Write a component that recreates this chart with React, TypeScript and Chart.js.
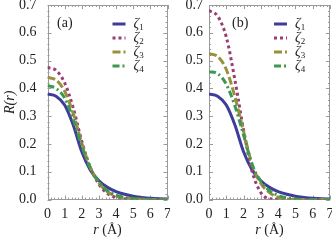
import React, { useEffect, useRef } from "react";
import { Chart, registerables } from "chart.js";
Chart.register(...registerables);

// r grid (Å)
const rValues = [0, 0.5, 1, 1.5, 2, 2.5, 3, 3.5, 4, 4.5, 5, 5.5, 6, 6.5, 7];

// Panel (a)
const zeta1A = [0.38, 0.372, 0.34, 0.268, 0.172, 0.106, 0.068, 0.044, 0.029, 0.019, 0.012, 0.008, 0.005, 0.003, 0.002];
const zeta2A = [0.475, 0.465, 0.42, 0.33, 0.21, 0.115, 0.055, 0.022, 0.008, 0.003, 0.001, 0, 0, 0, 0];
const zeta3A = [0.44, 0.43, 0.39, 0.31, 0.203, 0.116, 0.06, 0.028, 0.013, 0.006, 0.003, 0.001, 0, 0, 0];
const zeta4A = [0.41, 0.4, 0.365, 0.29, 0.193, 0.113, 0.063, 0.032, 0.016, 0.008, 0.004, 0.002, 0.001, 0, 0];

// Panel (b)
const zeta1B = [0.38, 0.372, 0.34, 0.268, 0.172, 0.106, 0.068, 0.044, 0.029, 0.019, 0.012, 0.008, 0.005, 0.003, 0.002];
const zeta2B = [0.68, 0.66, 0.585, 0.43, 0.25, 0.1, 0.025, 0.003, 0, 0, 0, 0, 0, 0, 0];
const zeta3B = [0.525, 0.515, 0.468, 0.37, 0.245, 0.125, 0.058, 0.025, 0.008, 0.002, 0, 0, 0, 0, 0];
const zeta4B = [0.46, 0.453, 0.415, 0.337, 0.232, 0.125, 0.065, 0.032, 0.015, 0.006, 0.002, 0, 0, 0, 0];

const xTicks = [0, 1, 2, 3, 4, 5, 6, 7];
const yTicks = [0, 0.1, 0.2, 0.3, 0.4, 0.5, 0.6, 0.7];
const seriesSubs = ["1", "2", "3", "4"];
const panelLabels = ["(a)", "(b)"];

const COLORS = ["rgb(62,61,153)", "rgb(153,61,116)", "rgb(153,144,61)", "rgb(61,153,81)"];
const DASHES: number[][] = [[], [3, 3], [8, 3], [7, 3, 2, 3]];
const SERIF = '"Liberation Serif", "Times New Roman", Tinos, "DejaVu Serif", serif';

function makePlugin(panel: number, opts: { labelDx: number; showYTitle: boolean }) {
  return {
    id: "framePanel" + panel,
    beforeDatasetsDraw(chart: any) {
      const { ctx, chartArea: a, scales } = chart;
      const x = scales.x;
      const y = scales.y;
      ctx.save();
      ctx.strokeStyle = "#9a9a9a";
      ctx.lineWidth = 1;
      ctx.strokeRect(Math.round(a.left) + 0.5, Math.round(a.top) + 0.5, Math.round(a.right - a.left) - 1, Math.round(a.bottom - a.top) - 1);
      ctx.beginPath();
      for (let i = 0; i <= 35; i++) {
        const px = Math.round(x.getPixelForValue(i * 0.2)) + 0.5;
        const len = i % 5 === 0 ? 4 : 2;
        ctx.moveTo(px, a.bottom);
        ctx.lineTo(px, a.bottom - len);
        ctx.moveTo(px, a.top);
        ctx.lineTo(px, a.top + len);
      }
      for (let j = 0; j <= 35; j++) {
        const py = Math.round(y.getPixelForValue(j * 0.02)) + 0.5;
        const len = j % 5 === 0 ? 4 : 2;
        ctx.moveTo(a.left, py);
        ctx.lineTo(a.left + len, py);
        ctx.moveTo(a.right, py);
        ctx.lineTo(a.right - len, py);
      }
      ctx.stroke();
      ctx.restore();
    },
    afterDraw(chart: any) {
      const { ctx, chartArea: a } = chart;
      ctx.save();
      ctx.fillStyle = "#222";
      ctx.textBaseline = "middle";
      // panel label
      ctx.font = `14px ${SERIF}`;
      ctx.textAlign = "left";
      ctx.fillText(panelLabels[panel], a.left + opts.labelDx, a.top + 18);
      // legend
      for (let k = 0; k < 4; k++) {
        const yy = a.top + 19 + k * 14;
        ctx.save();
        ctx.strokeStyle = COLORS[k];
        ctx.lineWidth = 3;
        ctx.setLineDash(DASHES[k]);
        ctx.beginPath();
        ctx.moveTo(a.left + 65, yy);
        ctx.lineTo(a.left + 78, yy);
        ctx.stroke();
        ctx.restore();
        ctx.fillStyle = "#222";
        ctx.font = `italic 14px ${SERIF}`;
        ctx.textAlign = "left";
        ctx.fillText("ζ", a.left + 86, yy);
        const w = ctx.measureText("ζ").width;
        ctx.font = `9px ${SERIF}`;
        ctx.fillText(seriesSubs[k], a.left + 86 + w, yy + 4);
      }
      // x title: r (Å)
      const cx = (a.left + a.right) / 2;
      const ty = 230;
      ctx.font = `italic 14px ${SERIF}`;
      const w1 = ctx.measureText("r").width;
      ctx.font = `14px ${SERIF}`;
      const w2 = ctx.measureText(" (Å)").width;
      const sx = cx - (w1 + w2) / 2;
      ctx.textAlign = "left";
      ctx.font = `italic 14px ${SERIF}`;
      ctx.fillText("r", sx, ty);
      ctx.font = `14px ${SERIF}`;
      ctx.fillText(" (Å)", sx + w1, ty);
      // y title
      if (opts.showYTitle) {
        ctx.save();
        ctx.translate(10, (a.top + a.bottom) / 2);
        ctx.rotate(-Math.PI / 2);
        ctx.textAlign = "center";
        ctx.font = `italic 14px ${SERIF}`;
        ctx.fillText("R(r)", 0, 0);
        ctx.restore();
      }
      ctx.restore();
    },
  };
}

function buildConfig(series: number[][], panel: number, yWidth: number, rightPad: number, yPad: number, labelDx: number, showYTitle: boolean): any {
  return {
    type: "line",
    data: {
      datasets: series.map((vals, k) => ({
        label: "ζ" + seriesSubs[k],
        data: rValues.map((r, i) => ({ x: r, y: vals[i] })),
        borderColor: COLORS[k],
        borderWidth: 3,
        borderDash: DASHES[k],
        pointRadius: 0,
        cubicInterpolationMode: "monotone",
        fill: false,
        order: 4 - k,
      })),
    },
    options: {
      animation: false,
      responsive: false,
      devicePixelRatio: 1,
      layout: { padding: { top: 5, right: rightPad, left: 0, bottom: 0 } },
      plugins: { legend: { display: false }, tooltip: { enabled: false } },
      scales: {
        x: {
          type: "linear",
          min: 0,
          max: 7,
          afterBuildTicks: (s: any) => {
            s.ticks = xTicks.map((v) => ({ value: v }));
          },
          afterFit: (s: any) => {
            s.height = 42.4;
            s.paddingLeft = 0;
            s.paddingRight = 0;
            s.paddingTop = 0;
            s.paddingBottom = 0;
          },
          grid: { display: false, drawTicks: false },
          border: { display: false },
          ticks: {
            padding: 6,
            maxRotation: 0,
            autoSkip: false,
            color: "#222",
            font: { family: SERIF, size: 14 },
            callback: (v: any) => String(v),
          },
        },
        y: {
          type: "linear",
          min: 0,
          max: 0.7,
          afterBuildTicks: (s: any) => {
            s.ticks = yTicks.map((v) => ({ value: v }));
          },
          afterFit: (s: any) => {
            s.width = yWidth;
            s.paddingLeft = 0;
            s.paddingRight = 0;
            s.paddingTop = 0;
            s.paddingBottom = 0;
          },
          grid: { display: false, drawTicks: false },
          border: { display: false },
          ticks: {
            padding: yPad,
            autoSkip: false,
            color: "#222",
            font: { family: SERIF, size: 14 },
            callback: (v: any) => Number(v).toFixed(1),
          },
        },
      },
    },
    plugins: [makePlugin(panel, { labelDx, showYTitle })],
  };
}

export default function App() {
  const refA = useRef<HTMLCanvasElement | null>(null);
  const refB = useRef<HTMLCanvasElement | null>(null);
  useEffect(() => {
    let cA: Chart | null = null;
    let cB: Chart | null = null;
    let cancelled = false;
    const create = () => {
      if (cancelled) return;
      cA = new Chart(refA.current as HTMLCanvasElement, buildConfig([zeta1A, zeta2A, zeta3A, zeta4A], 0, 47.5, 2.5, 11, 9.5, true));
      cB = new Chart(refB.current as HTMLCanvasElement, buildConfig([zeta1B, zeta2B, zeta3B, zeta4B], 1, 39, 2, 6, 23, false));
    };
    const fonts: any = (document as any).fonts;
    if (fonts && fonts.load) {
      Promise.all([
        fonts.load('14px "Liberation Serif"'),
        fonts.load('italic 14px "Liberation Serif"'),
      ]).then(create, create);
    } else {
      create();
    }
    return () => {
      cancelled = true;
      if (cA) cA.destroy();
      if (cB) cB.destroy();
    };
  }, []);
  return (
    <div style={{ position: "fixed", left: 0, top: 0, width: 332, height: 242, background: "#fff" }}>
      <canvas ref={refA} width={170} height={242} style={{ position: "absolute", left: 0, top: 0, width: 170, height: 242 }} />
      <canvas ref={refB} width={162} height={242} style={{ position: "absolute", left: 170, top: 0, width: 162, height: 242 }} />
    </div>
  );
}
